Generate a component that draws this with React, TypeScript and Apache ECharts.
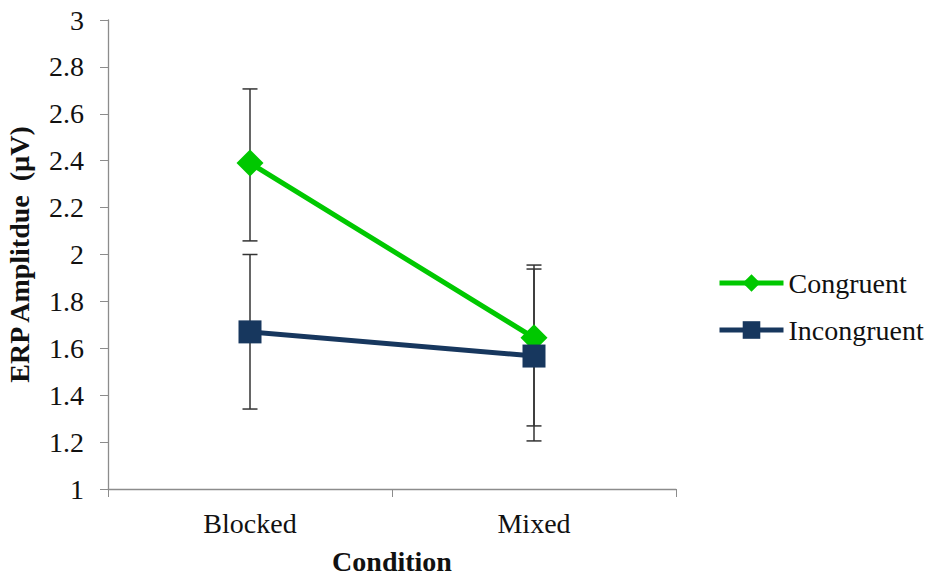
import React, { useEffect, useRef } from "react";
import * as echarts from "echarts";

const categories = ["Blocked", "Mixed"];
const congruent = [2.39, 1.645];
const incongruent = [1.67, 1.567];
const congruentLow = [2.058, 1.269];
const congruentHigh = [2.706, 1.955];
const incongruentLow = [1.341, 1.205];
const incongruentHigh = [2.0, 1.938];

const FONT = "Liberation Serif";
const FS = 28;

function errorSeries(name: string, low: number[], high: number[]) {
  return {
    type: "custom",
    name,
    z: 1,
    silent: true,
    data: low.map((l, i) => [i, l, high[i]]),
    renderItem: (params: any, api: any) => {
      const x = api.value(0);
      const lo = api.coord([x, api.value(1)]);
      const hi = api.coord([x, api.value(2)]);
      const w = 7.5;
      const style = { stroke: "#333333", lineWidth: 1.5 };
      return {
        type: "group",
        children: [
          { type: "line", shape: { x1: lo[0], y1: lo[1], x2: hi[0], y2: hi[1] }, style },
          { type: "line", shape: { x1: lo[0] - w, y1: lo[1], x2: lo[0] + w, y2: lo[1] }, style },
          { type: "line", shape: { x1: hi[0] - w, y1: hi[1], x2: hi[0] + w, y2: hi[1] }, style },
        ],
      };
    },
  };
}

export default function App() {
  const ref = useRef<HTMLDivElement>(null);
  useEffect(() => {
    if (!ref.current) return;
    const chart = echarts.init(ref.current, undefined, { renderer: "svg" });
    chart.setOption({
      animation: false,
      backgroundColor: "#ffffff",
      textStyle: { fontFamily: FONT },
      grid: { left: 108, right: 250, top: 20, bottom: 88, containLabel: false, outerBoundsMode: "none" },
      legend: {
        orient: "vertical",
        left: 712,
        top: 264,
        itemWidth: 64,
        itemHeight: 22,
        itemGap: 19,
        lineStyle: { width: 5 },
        data: ["Congruent", "Incongruent"],
        textStyle: { fontFamily: FONT, fontSize: FS, color: "#111" },
      },
      xAxis: {
        type: "category",
        data: categories,
        boundaryGap: true,
        name: "Condition",
        nameLocation: "middle",
        nameGap: 58,
        nameTextStyle: { fontFamily: FONT, fontSize: FS, fontWeight: "bold", color: "#111" },
        axisLine: { lineStyle: { color: "#8c8c8c", width: 1.3 } },
        axisTick: { show: true, length: 8, lineStyle: { color: "#8c8c8c" } },
        axisLabel: { fontFamily: FONT, fontSize: FS, color: "#111", margin: 20 },
      },
      yAxis: {
        type: "value",
        min: 1,
        max: 3,
        interval: 0.2,
        name: "ERP Amplitdue  (µV)",
        nameLocation: "middle",
        nameGap: 75,
        nameRotate: 90,
        nameTextStyle: { fontFamily: FONT, fontSize: FS, fontWeight: "bold", color: "#111" },
        splitLine: { show: false },
        axisLine: { show: true, lineStyle: { color: "#8c8c8c", width: 1.3 } },
        axisTick: { show: true, length: 8, lineStyle: { color: "#8c8c8c" } },
        axisLabel: {
          fontFamily: FONT,
          fontSize: FS,
          color: "#111",
          margin: 24,
          formatter: (v: number) => String(Math.round(v * 10) / 10),
        },
      },
      series: [
        errorSeries("errC", congruentLow, congruentHigh),
        errorSeries("errI", incongruentLow, incongruentHigh),
        {
          type: "line",
          name: "Congruent",
          data: congruent,
          z: 3,
          symbol: "diamond",
          symbolSize: 27,
          lineStyle: { color: "#00c800", width: 5 },
          itemStyle: { color: "#00c800" },
        },
        {
          type: "line",
          name: "Incongruent",
          data: incongruent,
          z: 4,
          symbol: "rect",
          symbolSize: 23,
          lineStyle: { color: "#17375e", width: 5 },
          itemStyle: { color: "#17375e" },
        },
      ],
    });
    return () => chart.dispose();
  }, []);
  return <div ref={ref} style={{ width: 926, height: 577, position: "absolute", left: 0, top: 0 }} />;
}
